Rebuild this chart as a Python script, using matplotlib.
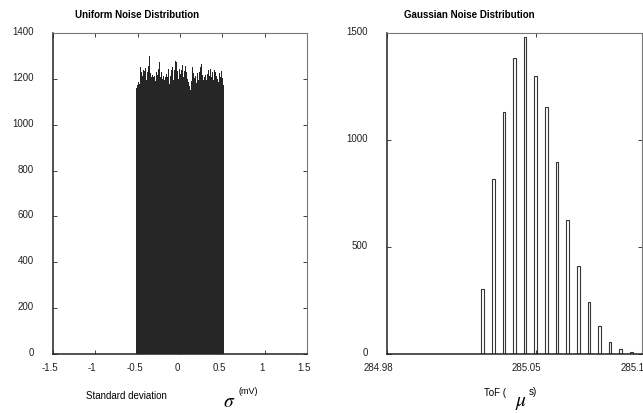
import matplotlib
matplotlib.use('Agg')
import matplotlib.pyplot as plt
import matplotlib.transforms as mtransforms
import numpy as np

plt.rcParams['font.family'] = ['Liberation Sans', 'DejaVu Sans']
plt.rcParams['mathtext.fontset'] = 'stix'

# uniform noise histogram (counts per bin)
uniform_counts = [
    1160, 1172, 1185, 1190, 1178, 1250, 1232, 1214, 1240, 1236,
    1248, 1196, 1266, 1228, 1254, 1300, 1224, 1210, 1218, 1206,
    1198, 1214, 1192, 1228, 1216, 1242, 1274, 1206, 1232, 1212,
    1200, 1214, 1196, 1206, 1222, 1208, 1244, 1200, 1176, 1212,
    1238, 1252, 1196, 1240, 1278, 1210, 1272, 1236, 1200, 1244,
    1222, 1238, 1260, 1206, 1184, 1236, 1258, 1232, 1200, 1186,
    1168, 1150, 1186, 1192, 1252, 1224, 1202, 1212, 1180, 1226,
    1206, 1196, 1232, 1250, 1266, 1218, 1196, 1210, 1218, 1206,
    1194, 1222, 1238, 1214, 1244, 1206, 1228, 1216, 1196, 1240,
    1232, 1214, 1200, 1186, 1224, 1210, 1196, 1236, 1204, 1172,
]
uniform_range = (-0.52, 0.52)

# gaussian noise histogram
tof_values = [285.025, 285.030, 285.035, 285.040, 285.045, 285.050, 285.055,
              285.060, 285.065, 285.070, 285.075, 285.080, 285.085, 285.090,
              285.095]
tof_counts = [304, 818, 1129, 1382, 1480, 1300, 1153, 899, 626, 413, 244,
              129, 58, 23, 8]

left_xticks = [-1.5, -1, -0.5, 0, 0.5, 1, 1.5]
left_xticklabels = ['-1.5', '-1', '-0.5', '0', '0.5', '1', '1.5']
left_yticks = [0, 200, 400, 600, 800, 1000, 1200, 1400]
right_xticks = [284.98, 285.05, 285.1]
right_xticklabels = ['284.98', '285.05', '285.1']
right_yticks = [0, 500, 1000, 1500]

W, H = 643, 414
fig = plt.figure(figsize=(W / 100, H / 100), dpi=100)


def px_axes(x0, y0, x1, y1):
    return fig.add_axes([x0 / W, 1 - y1 / H, (x1 - x0) / W, (y1 - y0) / H])


def style(ax, xshift, yshift, ypad):
    ax.tick_params(direction='in', length=3, width=0.6, top=True, right=True,
                   labelsize=7, colors='#222222')
    ax.tick_params(axis='y', pad=ypad)
    ax.tick_params(axis='x', pad=6)
    for side in ['bottom', 'left']:
        ax.spines[side].set_color('#222222')
        ax.spines[side].set_linewidth(1.1)
    for side in ['top', 'right']:
        ax.spines[side].set_color('#777777')
        ax.spines[side].set_linewidth(0.8)
    for lab in ax.get_xticklabels():
        lab.set_transform(lab.get_transform() +
                          mtransforms.ScaledTranslation(xshift / 100, 0, fig.dpi_scale_trans))
    for lab in ax.get_yticklabels():
        lab.set_transform(lab.get_transform() +
                          mtransforms.ScaledTranslation(0, yshift / 100, fig.dpi_scale_trans))


# left: uniform
ax1 = px_axes(53, 34, 307, 355)
edges = np.linspace(uniform_range[0], uniform_range[1], len(uniform_counts) + 1)
ax1.bar(edges[:-1], uniform_counts, width=np.diff(edges), align='edge',
        color='#262626', linewidth=0)
ax1.set_xlim(-1.5, 1.5)
ax1.set_ylim(0, 1400)
ax1.set_xticks(left_xticks)
ax1.set_xticklabels(left_xticklabels)
ax1.set_yticks(left_yticks)
style(ax1, -3, 3, 14)

# right: gaussian
ax2 = px_axes(387, 34, 642, 355)
ax2.bar(tof_values, tof_counts, width=0.0012, facecolor='white',
        edgecolor='#333333', linewidth=0.8)
ax2.set_xlim(284.98, 285.1)
ax2.set_ylim(0, 1500)
ax2.set_xticks(right_xticks)
ax2.set_xticklabels(right_xticklabels)
ax2.set_yticks(right_yticks)
style(ax2, -9, 3, 14)

# titles and axis labels
def ftext(x, y, s, **kw):
    fig.text(x / W, 1 - y / H, s, ha='center', va='center', **kw)

ftext(137, 15, 'Uniform Noise Distribution', fontsize=7, fontweight='bold')
ftext(469, 15, 'Gaussian Noise Distribution', fontsize=7, fontweight='bold')

ftext(126, 396, 'Standard deviation', fontsize=7)
ftext(229, 403, r'$\sigma$', fontsize=14)
ftext(248, 392, '(mV)', fontsize=6.5)

ftext(495, 393, 'ToF (', fontsize=7)
ftext(521, 404, r'$\mu$', fontsize=14)
ftext(533, 392, 's)', fontsize=7)

fig.savefig('out.png', dpi=100)
